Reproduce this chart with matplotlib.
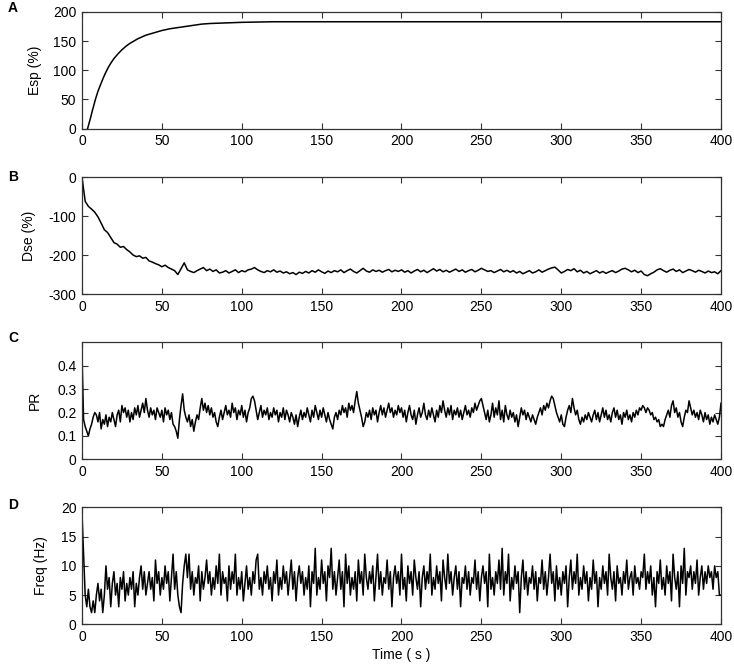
import numpy as np
import matplotlib
matplotlib.use("Agg")
import matplotlib.pyplot as plt

plt.rcParams['font.family'] = ['Liberation Sans', 'DejaVu Sans']
plt.rcParams['axes.unicode_minus'] = False

# panel A: Esp (%) - smooth rise, read at a few times
esp_t = [3.5, 4.5, 5.5, 6.5, 7.5, 8.5, 10, 11, 12, 13.5, 15, 16.5, 18, 20, 22.5, 25, 27.5, 30, 32.5, 35, 37.5, 40, 45, 50,
         55, 60, 65, 70, 75, 80, 90, 100, 120, 150, 200, 400]
esp = [0, 10, 20, 31, 41, 51, 64, 71, 78, 88, 97, 105, 112, 120, 128, 135, 141, 146, 150, 154, 157, 160, 164, 168,
       171, 173, 175, 177, 179, 180, 181, 182, 183, 183, 183, 183]

# panel B: Dse (%) every 2 s
dse_t = np.arange(0, 401, 2)
dse = [0, -62, -75, -82, -90, -102, -118, -135, -142, -155, -168, -172, -180, -178, -186, -192, -200, -204, -202, -208,
       -206, -215, -218, -222, -225, -230, -226, -232, -236, -240, -250, -235, -220, -238, -242, -245, -240, -236, -232, -240,
       -236, -242, -238, -246, -244, -240, -246, -242, -238, -245, -240, -243, -238, -236, -232, -238, -242, -245, -240, -243,
       -238, -244, -241, -246, -243, -248, -245, -250, -244, -247, -242, -246, -240, -244, -238, -243, -247, -241, -245, -240,
       -243, -238, -245, -240, -236, -242, -246, -240, -234, -241, -244, -238, -242, -239, -244, -240, -237, -243, -239, -242,
       -238, -244, -240, -246, -241, -237, -243, -239, -245, -240, -235, -241, -237, -243, -239, -244, -240, -236, -242, -238,
       -244, -240, -237, -243, -239, -234, -238, -242, -240, -245, -241, -237, -243, -239, -244, -240, -246, -242, -248, -244,
       -240, -246, -243, -238, -244, -240, -236, -233, -231, -238, -246, -242, -237, -240, -235, -243, -239, -246, -242, -248,
       -244, -240, -246, -242, -247, -243, -240, -245, -241, -236, -234, -238, -243, -239, -245, -241, -250, -253, -248, -244,
       -238, -235, -240, -244, -239, -236, -242, -238, -245, -241, -237, -240, -244, -239, -242, -246, -241, -245, -243, -248,
       -240]

# panel C: PR every 1 s
pr_t = np.arange(0, 401, 1)
pr = [0.45, 0.17, 0.14, 0.12, 0.10, 0.13, 0.15, 0.18, 0.20, 0.19, 0.16, 0.20, 0.13, 0.17, 0.15, 0.19, 0.14, 0.18, 0.16, 0.20,
      0.17, 0.14, 0.19, 0.21, 0.16, 0.23, 0.20, 0.22, 0.18, 0.21, 0.16, 0.20, 0.17, 0.22, 0.19, 0.23, 0.18, 0.21, 0.24, 0.20,
      0.26, 0.21, 0.18, 0.22, 0.19, 0.21, 0.17, 0.22, 0.20, 0.18, 0.21, 0.16, 0.22, 0.19, 0.21, 0.17, 0.20, 0.15, 0.14, 0.12,
      0.09, 0.17, 0.23, 0.28, 0.21, 0.18, 0.16, 0.19, 0.14, 0.17, 0.12, 0.16, 0.19, 0.17, 0.22, 0.26, 0.21, 0.24, 0.20, 0.23,
      0.19, 0.22, 0.18, 0.20, 0.16, 0.14, 0.18, 0.21, 0.17, 0.20, 0.23, 0.19, 0.21, 0.18, 0.24, 0.20, 0.22, 0.17, 0.21, 0.19,
      0.23, 0.18, 0.21, 0.16, 0.20, 0.22, 0.26, 0.27, 0.25, 0.21, 0.17, 0.20, 0.23, 0.18, 0.21, 0.19, 0.22, 0.17, 0.20, 0.18,
      0.22, 0.19, 0.21, 0.16, 0.20, 0.18, 0.22, 0.17, 0.21, 0.19, 0.16, 0.20, 0.18, 0.15, 0.19, 0.14, 0.18, 0.21, 0.17, 0.20,
      0.18, 0.22, 0.19, 0.16, 0.21, 0.18, 0.23, 0.20, 0.17, 0.21, 0.18, 0.22, 0.19, 0.16, 0.20, 0.17, 0.15, 0.13, 0.18, 0.20,
      0.17, 0.21, 0.19, 0.23, 0.20, 0.22, 0.18, 0.24, 0.21, 0.23, 0.20, 0.25, 0.29, 0.24, 0.21, 0.18, 0.14, 0.16, 0.20, 0.18,
      0.21, 0.17, 0.22, 0.19, 0.21, 0.16, 0.20, 0.23, 0.19, 0.22, 0.18, 0.21, 0.24, 0.20, 0.22, 0.18, 0.21, 0.19, 0.23, 0.20,
      0.22, 0.18, 0.21, 0.16, 0.20, 0.23, 0.19, 0.17, 0.21, 0.15, 0.19, 0.22, 0.18, 0.20, 0.24, 0.19, 0.17, 0.21, 0.18, 0.22,
      0.19, 0.16, 0.21, 0.18, 0.23, 0.20, 0.25, 0.21, 0.18, 0.22, 0.19, 0.23, 0.17, 0.21, 0.19, 0.22, 0.18, 0.21, 0.17, 0.20,
      0.23, 0.19, 0.21, 0.18, 0.22, 0.20, 0.24, 0.21, 0.23, 0.25, 0.26, 0.23, 0.20, 0.17, 0.21, 0.16, 0.19, 0.24, 0.18, 0.22,
      0.19, 0.25, 0.17, 0.21, 0.16, 0.23, 0.19, 0.17, 0.21, 0.18, 0.20, 0.16, 0.19, 0.14, 0.18, 0.22, 0.19, 0.21, 0.17, 0.20,
      0.18, 0.16, 0.19, 0.17, 0.15, 0.18, 0.20, 0.22, 0.19, 0.23, 0.21, 0.24, 0.22, 0.25, 0.27, 0.26, 0.23, 0.20, 0.18, 0.16,
      0.19, 0.15, 0.14, 0.18, 0.21, 0.23, 0.20, 0.26, 0.22, 0.19, 0.21, 0.17, 0.15, 0.18, 0.16, 0.19, 0.17, 0.20, 0.18, 0.16,
      0.19, 0.21, 0.17, 0.20, 0.16, 0.19, 0.22, 0.18, 0.21, 0.17, 0.19, 0.16, 0.20, 0.22, 0.18, 0.21, 0.17, 0.19, 0.15, 0.20,
      0.18, 0.21, 0.17, 0.19, 0.16, 0.20, 0.18, 0.21, 0.19, 0.22, 0.21, 0.23, 0.22, 0.20, 0.22, 0.21, 0.19, 0.20, 0.17, 0.18,
      0.16, 0.17, 0.14, 0.15, 0.14, 0.17, 0.19, 0.21, 0.18, 0.23, 0.25, 0.20, 0.22, 0.18, 0.20, 0.16, 0.14, 0.18, 0.21, 0.20,
      0.25, 0.22, 0.19, 0.21, 0.18, 0.20, 0.17, 0.21, 0.19, 0.16, 0.20, 0.17, 0.19, 0.15, 0.18, 0.16, 0.19, 0.17, 0.15, 0.18,
      0.24]

# panel D: Freq (Hz) every 1 s
freq_t = np.arange(0, 401, 1)
freq = [19, 12, 5, 3, 6, 3, 2, 4, 2, 5, 7, 4, 6, 2, 5, 10, 6, 8, 3, 7,
        9, 5, 7, 3, 8, 6, 9, 4, 7, 5, 8, 6, 9, 3, 7, 5, 8, 10, 6, 9,
        5, 7, 9, 6, 8, 4, 11, 7, 9, 5, 8, 6, 10, 7, 9, 4, 8, 12, 6, 9,
        5, 3, 2, 7, 10, 12, 8, 12, 6, 9, 5, 8, 7, 10, 4, 9, 6, 8, 11, 7,
        9, 5, 8, 6, 10, 7, 12, 5, 9, 7, 8, 4, 10, 6, 9, 7, 12, 5, 8, 6,
        9, 4, 7, 10, 6, 8, 5, 9, 7, 11, 12, 6, 8, 5, 9, 7, 10, 6, 8, 4,
        9, 7, 11, 5, 8, 6, 10, 7, 9, 5, 8, 11, 6, 9, 4, 8, 10, 7, 9, 5,
        8, 6, 10, 3, 9, 7, 13, 5, 8, 6, 11, 7, 9, 4, 10, 8, 13, 6, 9, 5,
        8, 11, 6, 9, 3, 12, 7, 10, 5, 8, 6, 9, 4, 11, 7, 9, 5, 12, 8, 6,
        9, 7, 10, 4, 8, 12, 6, 9, 5, 8, 7, 11, 6, 9, 3, 8, 10, 7, 9, 5,
        12, 6, 8, 4, 10, 7, 9, 5, 11, 8, 6, 9, 3, 8, 10, 6, 9, 7, 12, 5,
        8, 6, 10, 7, 9, 4, 11, 8, 6, 12, 7, 9, 5, 8, 10, 6, 9, 3, 8, 7,
        10, 6, 9, 5, 8, 7, 11, 6, 9, 4, 8, 10, 7, 9, 3, 12, 6, 8, 5, 9,
        7, 11, 6, 13, 5, 9, 7, 12, 4, 8, 6, 10, 7, 9, 2, 8, 11, 6, 9, 5,
        8, 7, 10, 6, 9, 4, 8, 7, 11, 6, 9, 5, 8, 12, 7, 9, 4, 10, 6, 8,
        5, 9, 7, 10, 3, 8, 11, 6, 9, 7, 12, 5, 8, 6, 10, 7, 9, 4, 8, 6,
        11, 7, 9, 3, 8, 6, 10, 7, 9, 5, 12, 8, 6, 9, 4, 10, 7, 8, 5, 9,
        7, 11, 6, 8, 9, 5, 10, 7, 8, 6, 9, 8, 12, 6, 9, 7, 10, 5, 8, 3,
        9, 7, 11, 6, 8, 5, 10, 7, 9, 4, 12, 8, 6, 9, 3, 10, 7, 13, 5, 9,
        8, 10, 6, 9, 7, 11, 5, 8, 10, 6, 9, 7, 10, 8, 9, 6, 10, 8, 9, 5,
        5]

xticks = [0, 50, 100, 150, 200, 250, 300, 350, 400]

# letter, x, y, ylabel, ylim, yticks, axes bottom, ylabel x, letter y (px from top)
panels = [
    ('A', esp_t, esp, 'Esp (%)', (0, 200), [0, 50, 100, 150, 200], 0.8062, -0.063, 8.5),
    ('B', dse_t, dse, 'Dse (%)', (-300, 0), [-300, -200, -100, 0], 0.5572, -0.072, 177),
    ('C', pr_t, pr, 'PR', (0, 0.5), [0, 0.1, 0.2, 0.3, 0.4], 0.3083, -0.063, 338),
    ('D', freq_t, freq, 'Freq (Hz)', (0, 20), [0, 5, 10, 15, 20], 0.0598, -0.053, 505),
]

fig = plt.figure(figsize=(7.34, 6.64), dpi=100)
for letter, t, y, ylabel, ylim, yticks, bottom, lab_x, let_y in panels:
    ax = fig.add_axes([0.1117, bottom, 0.8706, 0.176])
    ax.plot(t, y, color='black', lw=1.1)
    ax.set_xlim(0, 400)
    ax.set_ylim(*ylim)
    ax.set_xticks(xticks)
    ax.set_yticks(yticks)
    ax.set_yticklabels([('%g' % v) for v in yticks])
    ax.tick_params(direction='in', top=True, right=True, length=4.5,
                   width=0.8, labelsize=10, color='#333333', pad=4)
    for sp in ax.spines.values():
        sp.set_color('#333333')
        sp.set_linewidth(0.9)
    ax.set_ylabel(ylabel, fontsize=10)
    ax.yaxis.set_label_coords(lab_x, 0.5)
    fig.text(8 / 734, 1 - let_y / 664, letter,
             fontsize=10, fontweight='bold', va='center', ha='left')
    if letter == 'D':
        ax.set_xlabel('Time ( s )', fontsize=10, labelpad=3)

fig.savefig('out.png', dpi=100)
